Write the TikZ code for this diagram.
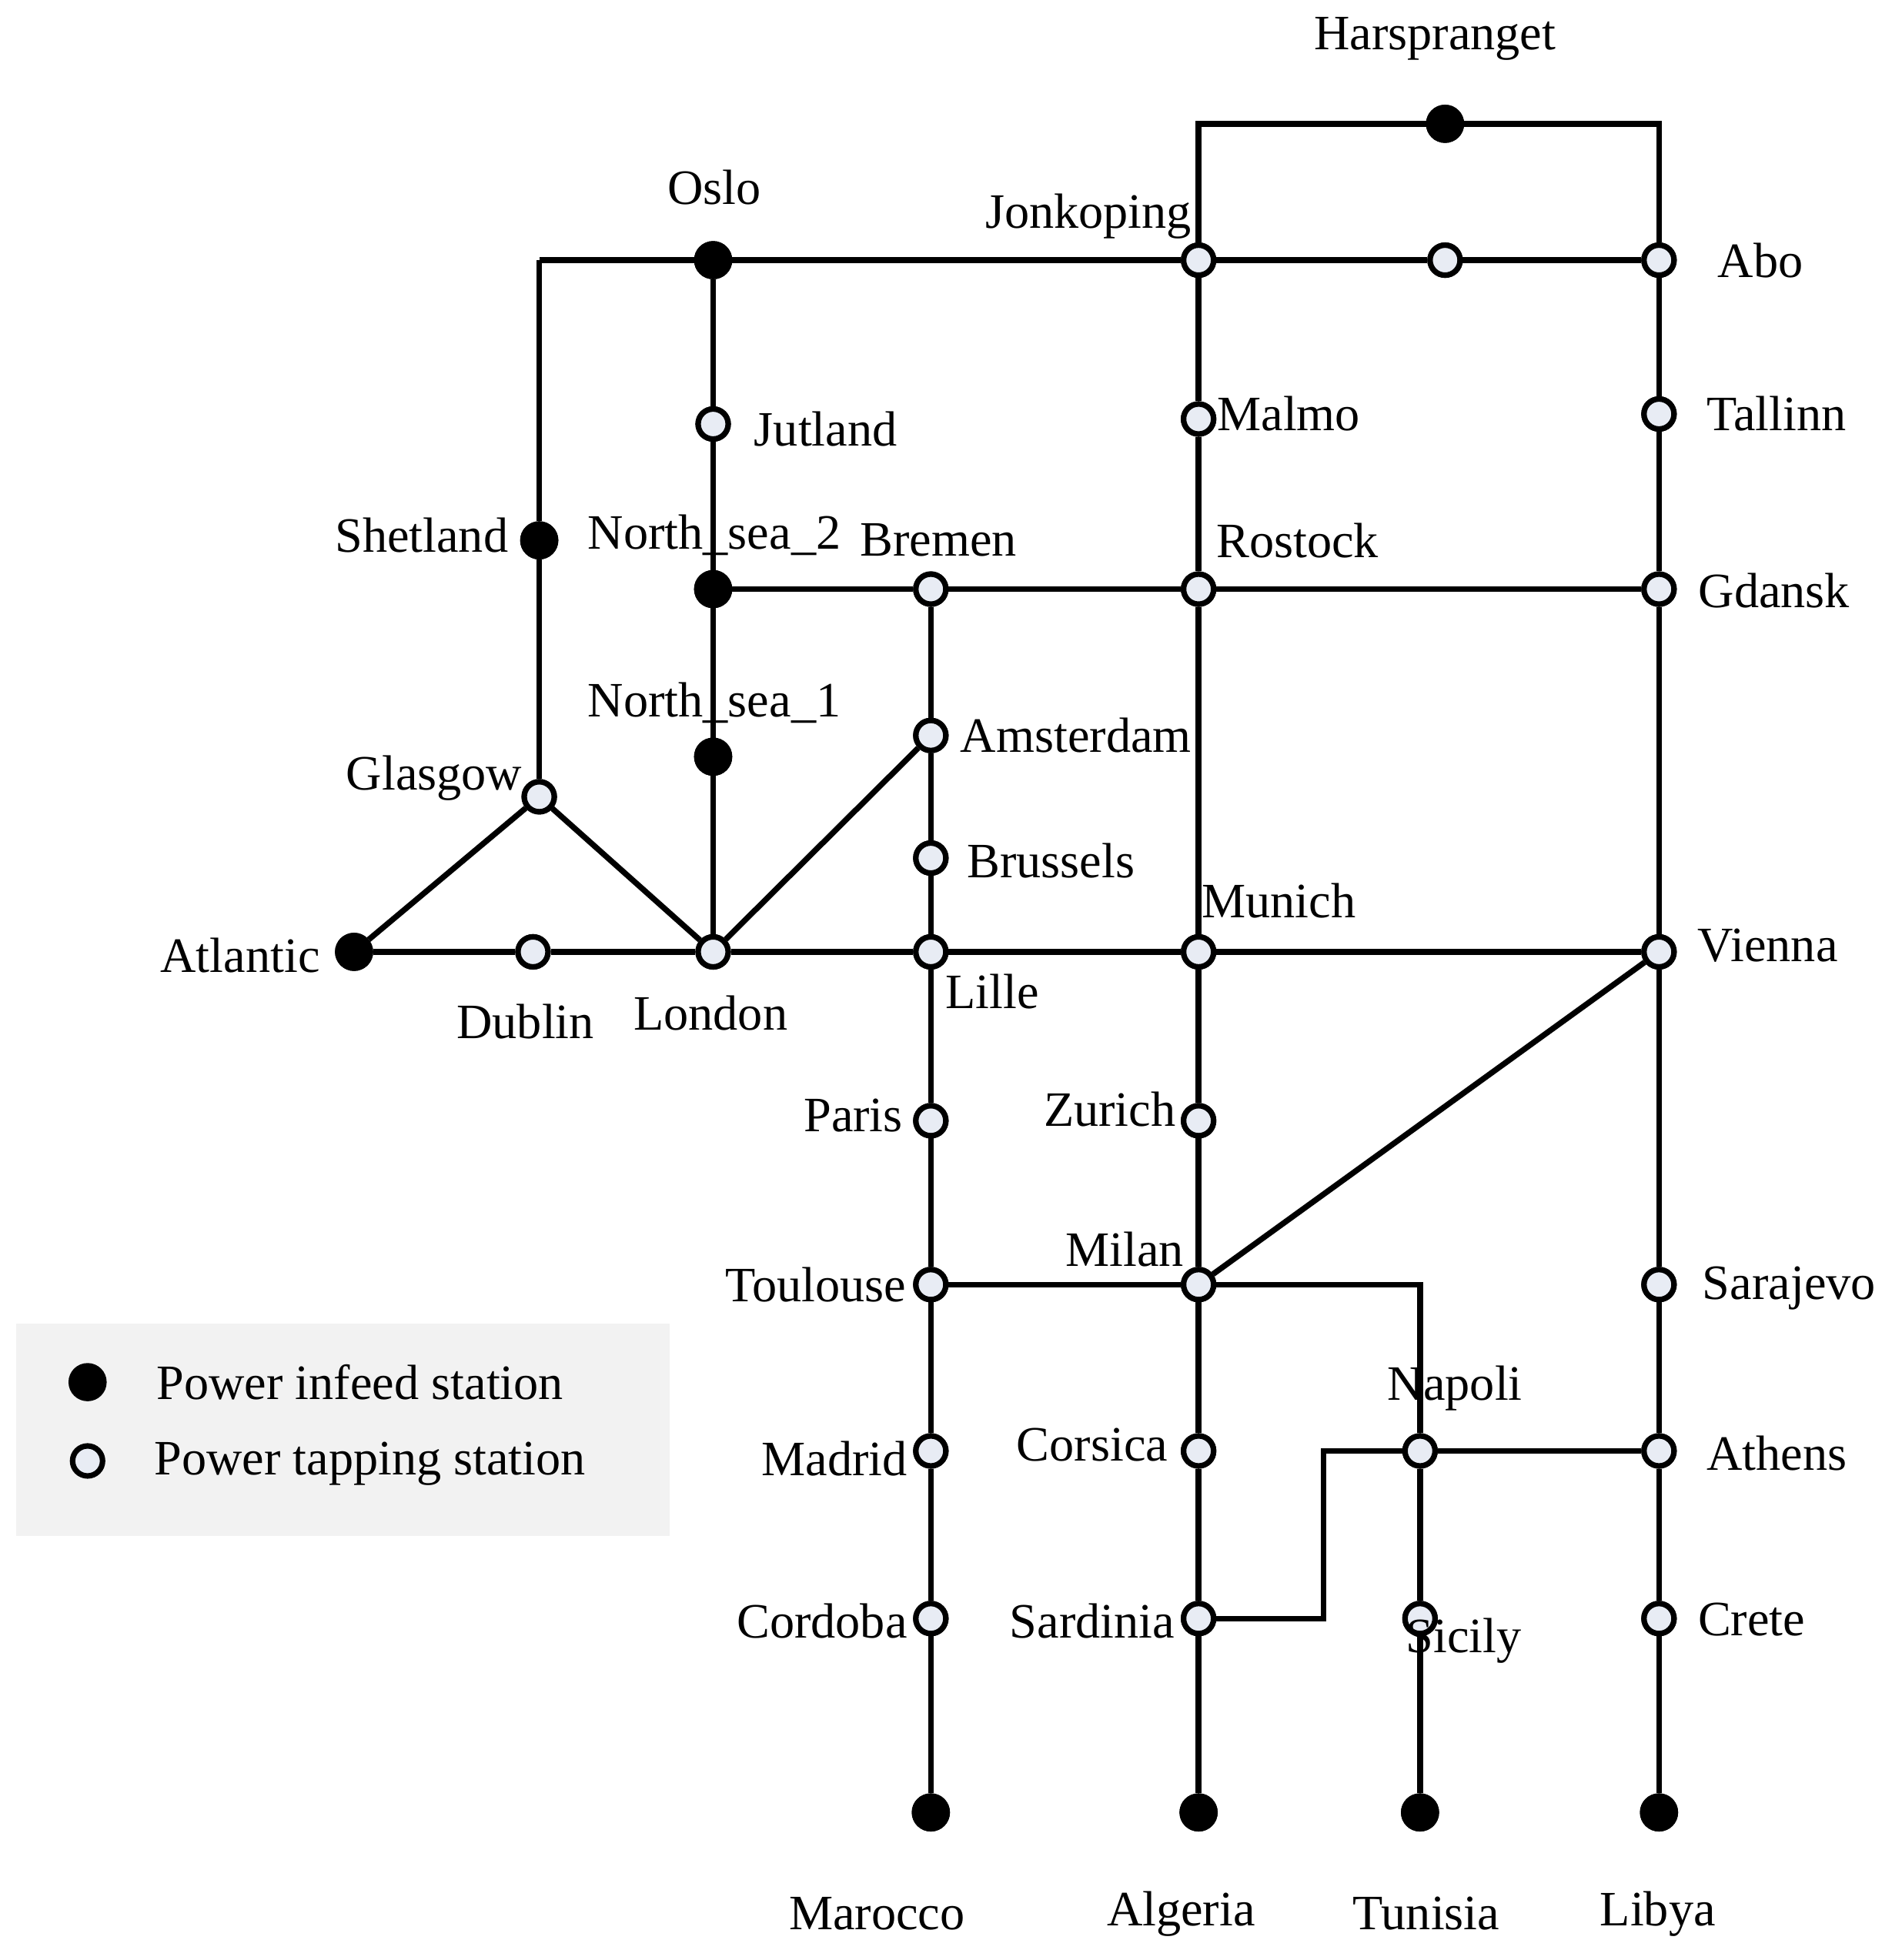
\documentclass[tikz,border=0pt]{standalone}
\usepackage{fontspec}
\setmainfont{Liberation Serif}
\begin{document}
\begin{tikzpicture}[x=0.02cm,y=-0.02cm,
  ln/.style={line width=2.6pt,line join=miter},
  inf/.style={circle,fill=black,draw=black,line width=2pt,minimum size=27*0.02cm,inner sep=0pt},
  tap/.style={circle,fill={rgb,255:red,232;green,236;blue,244},draw=black,line width=2.5pt,minimum size=24*0.02cm,inner sep=0pt},
  lb/.style={font=\fontsize{22.5}{26}\selectfont,inner sep=0pt}]
\useasboundingbox (0,0) rectangle (1520,1567);
\fill[gray!10] (13,1058) rectangle (535,1228);
\coordinate (c1) at (958,99); \coordinate (c2) at (1326,99);
\coordinate (c3) at (431,208); \coordinate (c4) at (1135,1027);
\coordinate (c5) at (1058,1294); \coordinate (c6) at (1058,1160);
\node[inf] (harsp) at (1155,99) {};
\node[inf] (oslo) at (570,208) {};
\node[tap] (jonk) at (958,208) {};
\node[tap] (mid) at (1155,208) {};
\node[tap] (abo) at (1326,208) {};
\node[tap] (jut) at (570,339) {};
\node[tap] (malmo) at (958,335) {};
\node[tap] (tall) at (1326,331) {};
\node[inf] (shet) at (431,432) {};
\node[inf] (ns2) at (570,471) {};
\node[tap] (brem) at (744,471) {};
\node[tap] (rost) at (958,471) {};
\node[tap] (gdan) at (1326,471) {};
\node[inf] (ns1) at (570,605) {};
\node[tap] (amst) at (744,588) {};
\node[tap] (glas) at (431,637) {};
\node[tap] (brus) at (744,686) {};
\node[inf] (atl) at (283,761) {};
\node[tap] (dub) at (426,761) {};
\node[tap] (lon) at (570,761) {};
\node[tap] (lille) at (744,761) {};
\node[tap] (mun) at (958,761) {};
\node[tap] (vien) at (1326,761) {};
\node[tap] (paris) at (744,896) {};
\node[tap] (zur) at (958,896) {};
\node[tap] (toul) at (744,1027) {};
\node[tap] (milan) at (958,1027) {};
\node[tap] (sara) at (1326,1027) {};
\node[tap] (madr) at (744,1160) {};
\node[tap] (cors) at (958,1160) {};
\node[tap] (nap) at (1135,1160) {};
\node[tap] (ath) at (1326,1160) {};
\node[tap] (cord) at (744,1294) {};
\node[tap] (sard) at (958,1294) {};
\node[tap] (sic) at (1135,1294) {};
\node[tap] (crete) at (1326,1294) {};
\node[inf] (maro) at (744,1449) {};
\node[inf] (alg) at (958,1449) {};
\node[inf] (tun) at (1135,1449) {};
\node[inf] (lib) at (1326,1449) {};
\draw[ln] (jonk) -- (c1) -- (harsp) -- (c2) -- (abo);
\draw[ln] (c3) -- (oslo) -- (jonk) -- (mid) -- (abo);
\draw[ln] (c3) -- (shet) -- (glas);
\draw[ln] (oslo) -- (jut) -- (ns2) -- (ns1) -- (lon);
\draw[ln] (ns2) -- (brem) -- (rost) -- (gdan);
\draw[ln] (jonk) -- (malmo) -- (rost) -- (mun) -- (zur) -- (milan) -- (cors) -- (sard) -- (alg);
\draw[ln] (abo) -- (tall) -- (gdan) -- (vien) -- (sara) -- (ath) -- (crete) -- (lib);
\draw[ln] (brem) -- (amst) -- (brus) -- (lille) -- (paris) -- (toul) -- (madr) -- (cord) -- (maro);
\draw[ln] (atl) -- (dub) -- (lon) -- (lille) -- (mun) -- (vien);
\draw[ln] (atl) -- (glas) -- (lon) -- (amst);
\draw[ln] (vien) -- (milan);
\draw[ln] (toul) -- (milan) -- (c4) -- (nap) -- (sic) -- (tun);
\draw[ln] (sard) -- (c5) -- (c6) -- (nap) -- (ath);
\foreach \n in {harsp,oslo,shet,ns2,ns1,atl,maro,alg,tun,lib}
  \node[inf] at (\n) {};
\foreach \n in {jonk,mid,abo,jut,malmo,tall,brem,rost,gdan,amst,glas,brus,dub,lon,lille,mun,vien,paris,zur,toul,milan,sara,madr,cors,nap,ath,cord,sard,sic,crete}
  \node[tap] at (\n) {};
\node[lb] (l1) at (1147,31) {Harspranget};
\node[lb] (l2) at (571,150) {Oslo};
\node[lb] (l3) at (870,173) {Jonkoping};
\node[lb] (l4) at (1407,208) {Abo};
\node[lb] (l5) at (660,343) {Jutland};
\node[lb] (l6) at (1030,331) {Malmo};
\node[lb] (l7) at (1420,331) {Tallinn};
\node[lb] (l8) at (337,428) {Shetland};
\node[lb] (l9) at (571,428) {North\_sea\_2};
\node[lb] (l10) at (750,432) {Bremen};
\node[lb] (l11) at (1037,432) {Rostock};
\node[lb] (l12) at (1418,472) {Gdansk};
\node[lb] (l13) at (571,562) {North\_sea\_1};
\node[lb] (l14) at (860,588) {Amsterdam};
\node[lb] (l15) at (347,622) {Glasgow};
\node[lb] (l16) at (840,688) {Brussels};
\node[lb] (l17) at (1022,720) {Munich};
\node[lb] (l18) at (1413,756) {Vienna};
\node[lb] (l19) at (192,764) {Atlantic};
\node[lb] (l20) at (420,817) {Dublin};
\node[lb] (l21) at (568,810) {London};
\node[lb] (l22) at (793,793) {Lille};
\node[lb] (l23) at (682,892) {Paris};
\node[lb] (l24) at (887,887) {Zurich};
\node[lb] (l25) at (899,999) {Milan};
\node[lb] (l26) at (652,1027) {Toulouse};
\node[lb] (l27) at (1430,1030) {Sarajevo};
\node[lb] (l28) at (1163,1110) {Napoli};
\node[lb] (l29) at (667,1166) {Madrid};
\node[lb] (l30) at (873,1155) {Corsica};
\node[lb] (l31) at (1420,1162) {Athens};
\node[lb] (l32) at (657,1296) {Cordoba};
\node[lb] (l33) at (873,1296) {Sardinia};
\node[lb] (l34) at (1170,1312) {Sicily};
\node[lb] (l35) at (1400,1295) {Crete};
\node[lb] (l36) at (701,1530) {Marocco};
\node[lb] (l37) at (944,1530) {Algeria};
\node[lb] (l38) at (1140,1530) {Tunisia};
\node[lb] (l39) at (1325,1530) {Libya};
\node[inf] (k1) at (70,1105) {};
\node[tap] (k2) at (70,1168) {};
\node[lb,anchor=west] (k1t) at (125,1105) {Power infeed station};
\node[lb,anchor=west] (k2t) at (123,1170) {Power tapping station};
\end{tikzpicture}
\end{document}
